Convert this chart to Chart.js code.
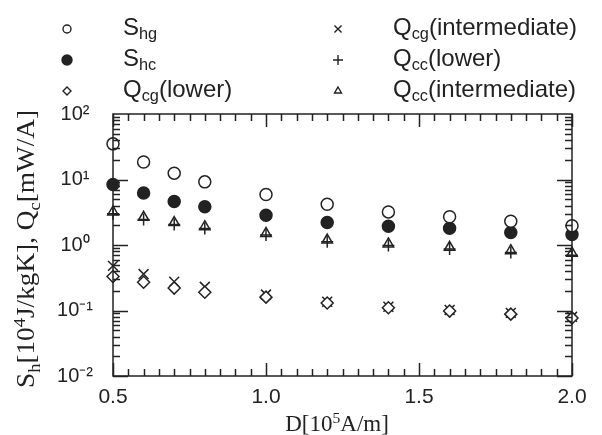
<!DOCTYPE html>
<html>
<head>
<meta charset="utf-8">
<script src="https://cdn.jsdelivr.net/npm/chart.js@4.4.0/dist/chart.umd.min.js"></script>
<style>
    html, body { margin: 0; padding: 0; background: #fff; }
    canvas { display: block; }
</style>
</head>
<body>
<canvas id="chart" width="602" height="435"></canvas>
<script>
// D [10^5 A/m]
const dValues = [0.5, 0.6, 0.7, 0.8, 1.0, 1.2, 1.4, 1.6, 1.8, 2.0];

const shg = [35, 18.5, 12.5, 9.2, 5.9, 4.2, 3.2, 2.7, 2.3, 1.97];
const shc = [8.4, 6.2, 4.6, 3.85, 2.85, 2.2, 1.93, 1.8, 1.55, 1.45];
const qcgLower = [0.33, 0.27, 0.22, 0.19, 0.16, 0.13, 0.11, 0.098, 0.088, 0.077];
const qcgInter = [0.48, 0.36, 0.275, 0.23, 0.175, 0.136, 0.114, 0.102, 0.092, 0.08];
const qccLower = [3.0, 2.45, 2.05, 1.78, 1.42, 1.12, 0.98, 0.87, 0.77, 0.7];
const qccInter = [3.2, 2.65, 2.2, 1.9, 1.5, 1.19, 1.04, 0.92, 0.82, 0.75];

const xTickValues = [0.5, 1.0, 1.5, 2.0];
const yDecades = [-2, -1, 0, 1, 2];
const supDigits = {"-": "\u207B", "0": "\u2070", "1": "\u00B9", "2": "\u00B2"};

const ink = "#222";
const sansFont = "'Liberation Sans', Arial, Helvetica, sans-serif";
const serifFont = "'Liberation Serif', 'Times New Roman', serif";

function pairs(ys)
{
    return dValues.map((x, i) => ({x: x, y: ys[i]}));
}

const seriesList = [
    {label: "Shg", data: shg, style: "circle", fill: "#fff", r: 6, lr: 4},
    {label: "Shc", data: shc, style: "circle", fill: ink, r: 6, lr: 5},
    {label: "Qcg(lower)", data: qcgLower, style: "rectRot", fill: "#fff", r: 6, lr: 4},
    {label: "Qcg(intermediate)", data: qcgInter, style: "crossRot", fill: ink, r: 7, lr: 5},
    {label: "Qcc(lower)", data: qccLower, style: "cross", fill: ink, r: 6, lr: 5},
    {label: "Qcc(intermediate)", data: qccInter, style: "triangle", fill: "#fff", r: 6, lr: 4}
];

// text pieces: [text, kind] where kind is "", "sub" or "sup"
const legendRows = [
    {col: 0, row: 0, series: 0, runs: [["S", ""], ["hg", "sub"]]},
    {col: 0, row: 1, series: 1, runs: [["S", ""], ["hc", "sub"]]},
    {col: 0, row: 2, series: 2, runs: [["Q", ""], ["cg", "sub"], ["(lower)", ""]]},
    {col: 1, row: 0, series: 3, runs: [["Q", ""], ["cg", "sub"], ["(intermediate)", ""]]},
    {col: 1, row: 1, series: 4, runs: [["Q", ""], ["cc", "sub"], ["(lower)", ""]]},
    {col: 1, row: 2, series: 5, runs: [["Q", ""], ["cc", "sub"], ["(intermediate)", ""]]}
];

const yTitleRuns = [["S", ""], ["h", "sub"], ["[10", ""], ["4", "sup"], ["J/kgK], Q", ""], ["c", "sub"], ["[mW/A]", ""]];
const xTitleRuns = [["D[10", ""], ["5", "sup"], ["A/m]", ""]];

function runsWidth(ctx, runs, size, family)
{
    let w = 0;
    runs.forEach(r => {
        const s = r[1] ? size * 0.68 : size;
        ctx.font = s + "px " + family;
        w += ctx.measureText(r[0]).width;
    });
    return w;
}

function drawRuns(ctx, runs, x, y, size, family, subDrop, supRise)
{
    let cx = x;
    ctx.textBaseline = "alphabetic";
    ctx.textAlign = "left";
    runs.forEach(r => {
        const s = r[1] ? size * 0.68 : size;
        let dy = 0;
        if (r[1] === "sub") dy = subDrop;
        if (r[1] === "sup") dy = -supRise;
        ctx.font = s + "px " + family;
        ctx.fillText(r[0], cx, y + dy);
        cx += ctx.measureText(r[0]).width;
    });
}

const framePlugin = {
    id: "frame",
    afterDatasetsDraw(chart)
    {
        const ctx = chart.ctx;
        const xs = chart.scales.x;
        const ys = chart.scales.y;
        const a = chart.chartArea;

        ctx.save();
        ctx.strokeStyle = ink;
        ctx.lineWidth = 1.5;
        ctx.strokeRect(a.left, a.top, a.right - a.left, a.bottom - a.top);

        ctx.beginPath();
        // x ticks every 0.05, major every 0.5
        for (let i = 0; i <= 30; i++)
        {
            const v = 0.5 + i * 0.05;
            const px = Math.round(xs.getPixelForValue(v)) + 0.5;
            const len = (i % 10 === 0) ? 13 : 7;
            ctx.moveTo(px, a.bottom);
            ctx.lineTo(px, a.bottom - len);
            ctx.moveTo(px, a.top);
            ctx.lineTo(px, a.top + len);
        }
        // y ticks 1..9 per decade
        for (let e = -2; e <= 1; e++)
        {
            for (let m = 1; m <= 9; m++)
            {
                const v = m * Math.pow(10, e);
                const py = Math.round(ys.getPixelForValue(v)) + 0.5;
                const len = (m === 1) ? 15 : 7;
                ctx.moveTo(a.left, py);
                ctx.lineTo(a.left + len, py);
                ctx.moveTo(a.right, py);
                ctx.lineTo(a.right - len, py);
            }
        }
        ctx.stroke();
        ctx.restore();
    },
    afterDraw(chart)
    {
        const ctx = chart.ctx;
        ctx.save();
        ctx.fillStyle = ink;
        ctx.strokeStyle = ink;

        // legend
        const colMarker = [67, 338];
        const colText = [123, 393];
        const rowBase = [35, 66, 97];
        legendRows.forEach(item => {
            const s = seriesList[item.series];
            const my = rowBase[item.row] - 6;
            ctx.fillStyle = s.fill;
            ctx.lineWidth = 1.4;
            Chart.helpers.drawPoint(ctx, {pointStyle: s.style, radius: s.lr, rotation: 0, borderWidth: 1.4}, colMarker[item.col], my);
            ctx.fillStyle = ink;
            drawRuns(ctx, item.runs, colText[item.col], rowBase[item.row], 24, sansFont, 4, 0);
        });

        // x axis title
        const xw = runsWidth(ctx, xTitleRuns, 23, serifFont);
        drawRuns(ctx, xTitleRuns, 337 - xw / 2, 431, 23, serifFont, 0, 8);

        // y axis title (rotated)
        const yw = runsWidth(ctx, yTitleRuns, 25, serifFont);
        const target = 278;
        ctx.translate(34, 249);
        ctx.rotate(-Math.PI / 2);
        ctx.scale(target / yw, 1);
        drawRuns(ctx, yTitleRuns, -yw / 2, 0, 25, serifFont, 6, 9);
        ctx.restore();
    }
};

const datasets = seriesList.map(s => ({
    label: s.label,
    data: pairs(s.data),
    pointStyle: s.style,
    pointRadius: s.r,
    pointBackgroundColor: s.fill,
    pointBorderColor: ink,
    pointBorderWidth: 1.5,
    showLine: false,
    clip: false
}));

new Chart(document.getElementById("chart"), {
    type: "scatter",
    data: {datasets: datasets},
    options: {
        responsive: false,
        animation: false,
        devicePixelRatio: 1,
        layout: {padding: {top: 114, right: 30, left: 0, bottom: 0}},
        plugins: {
            legend: {display: false},
            tooltip: {enabled: false}
        },
        scales: {
            x: {
                type: "linear",
                min: 0.5,
                max: 2.0,
                afterBuildTicks: scale => {
                    scale.ticks = xTickValues.map(v => ({value: v}));
                },
                afterFit: scale => { scale.height = 59; },
                grid: {display: false, drawTicks: false},
                border: {display: false},
                ticks: {
                    color: ink,
                    padding: 9,
                    font: {size: 21, family: sansFont},
                    callback: v => v.toFixed(1)
                }
            },
            y: {
                type: "logarithmic",
                min: 0.01,
                max: 100,
                afterBuildTicks: scale => {
                    scale.ticks = yDecades.map(e => ({value: Math.pow(10, e)}));
                },
                afterFit: scale => { scale.width = 113; },
                grid: {display: false, drawTicks: false},
                border: {display: false},
                ticks: {
                    color: ink,
                    padding: 20,
                    crossAlign: "center",
                    font: {size: 20, family: sansFont},
                    callback: v => {
                        const e = Math.round(Math.log10(v));
                        return "10" + String(e).split("").map(c => supDigits[c]).join("");
                    }
                }
            }
        }
    },
    plugins: [framePlugin]
});
</script>
</body>
</html>
